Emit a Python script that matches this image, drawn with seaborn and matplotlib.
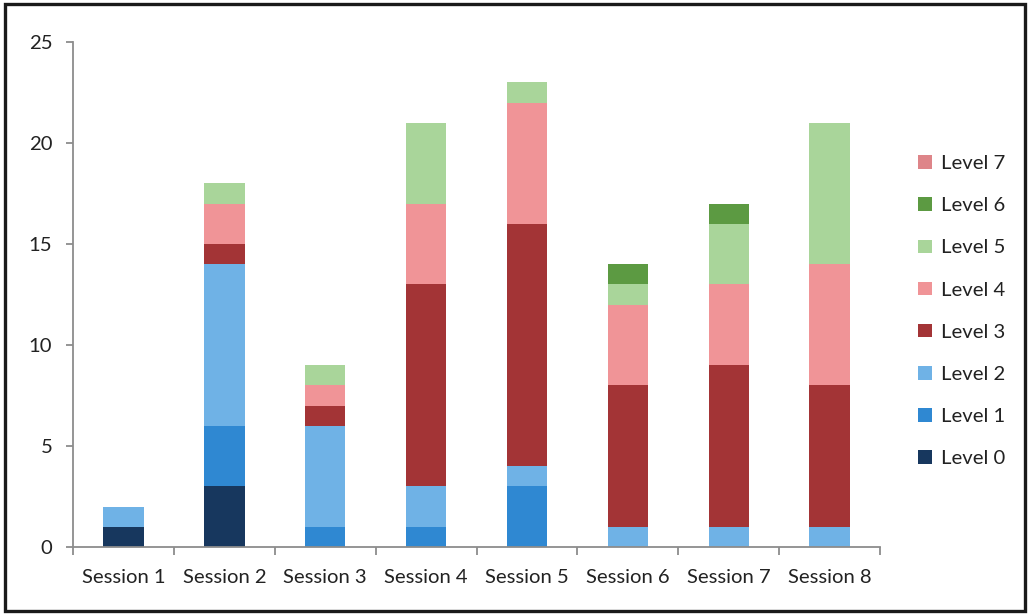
import matplotlib
matplotlib.use("Agg")
import matplotlib.pyplot as plt
from matplotlib.patches import Rectangle, Patch
import pandas as pd
import seaborn as sns

sessions = ["Session 1", "Session 2", "Session 3", "Session 4",
            "Session 5", "Session 6", "Session 7", "Session 8"]
levels = ["Level 0", "Level 1", "Level 2", "Level 3",
          "Level 4", "Level 5", "Level 6", "Level 7"]

# counts per level for each session
level_0 = [1, 3, 0, 0, 0, 0, 0, 0]
level_1 = [0, 3, 1, 1, 3, 0, 0, 0]
level_2 = [1, 8, 5, 2, 1, 1, 1, 1]
level_3 = [0, 1, 1, 10, 12, 7, 8, 7]
level_4 = [0, 2, 1, 4, 6, 4, 4, 6]
level_5 = [0, 1, 1, 4, 1, 1, 3, 7]
level_6 = [0, 0, 0, 0, 0, 1, 1, 0]
level_7 = [0, 0, 0, 0, 0, 0, 0, 0]

colors = {
    "Level 0": "#17375E",
    "Level 1": "#2F88D2",
    "Level 2": "#6FB2E6",
    "Level 3": "#A33436",
    "Level 4": "#F09497",
    "Level 5": "#A9D59A",
    "Level 6": "#5C9A42",
    "Level 7": "#DE8589",
}

series = [level_0, level_1, level_2, level_3, level_4, level_5, level_6, level_7]
rows = []
for lvl, vals in zip(levels, series):
    for s, v in zip(sessions, vals):
        rows.append({"Session": s, "Level": lvl, "Count": v})
df = pd.DataFrame(rows)
df["Session"] = pd.Categorical(df["Session"], categories=sessions, ordered=True)

sns.set_theme(style="white")
plt.rcParams["font.family"] = ["Lato", "DejaVu Sans"]

fig = plt.figure(figsize=(10.30, 6.15), dpi=100)
ax = fig.add_axes([0.0709, 0.1106, 0.7835, 0.8211])

# seaborn stacks the last hue level at the bottom
sns.histplot(data=df, x="Session", weights="Count", hue="Level",
             hue_order=levels[::-1], palette=colors, multiple="stack",
             discrete=True, shrink=0.4, alpha=1, linewidth=0,
             legend=False, ax=ax)

ax.set_xlim(-0.5, len(sessions) - 0.5)
ax.set_ylim(0, 25)
ax.set_yticks([0, 5, 10, 15, 20, 25])
ax.set_xticks(range(len(sessions)))
ax.set_xticklabels(sessions)
ax.set_xticks([i - 0.5 for i in range(len(sessions) + 1)], minor=True)
ax.set_xlabel("")
ax.set_ylabel("")

axis_grey = "#8C8C8C"
for side in ("top", "right"):
    ax.spines[side].set_visible(False)
for side in ("left", "bottom"):
    ax.spines[side].set_color(axis_grey)
    ax.spines[side].set_linewidth(1.3)

ax.tick_params(axis="x", which="major", length=0, pad=16,
               labelsize=14.6, labelcolor="#222222")
ax.tick_params(axis="x", which="minor", length=6, width=1.3,
               color=axis_grey, direction="out", bottom=True)
ax.tick_params(axis="y", length=5, width=1.3, color=axis_grey,
               direction="out", left=True, pad=10,
               labelsize=14.6, labelcolor="#222222")

handles = [Patch(facecolor=colors[l], edgecolor="none", label=l)
           for l in levels[::-1]]
fig.legend(handles=handles, loc="center left",
           bbox_to_anchor=(0.874, 0.494), frameon=False,
           fontsize=14.6, handlelength=0.65, handleheight=0.65,
           handletextpad=0.45, labelspacing=1.24, labelcolor="#222222")

# outer frame around the figure
fig.patches.append(Rectangle((0.005, 0.006), 0.99, 0.988,
                             transform=fig.transFigure, fill=False,
                             edgecolor="#1A1A1A", linewidth=2.4))

fig.savefig("out.png", dpi=100)
